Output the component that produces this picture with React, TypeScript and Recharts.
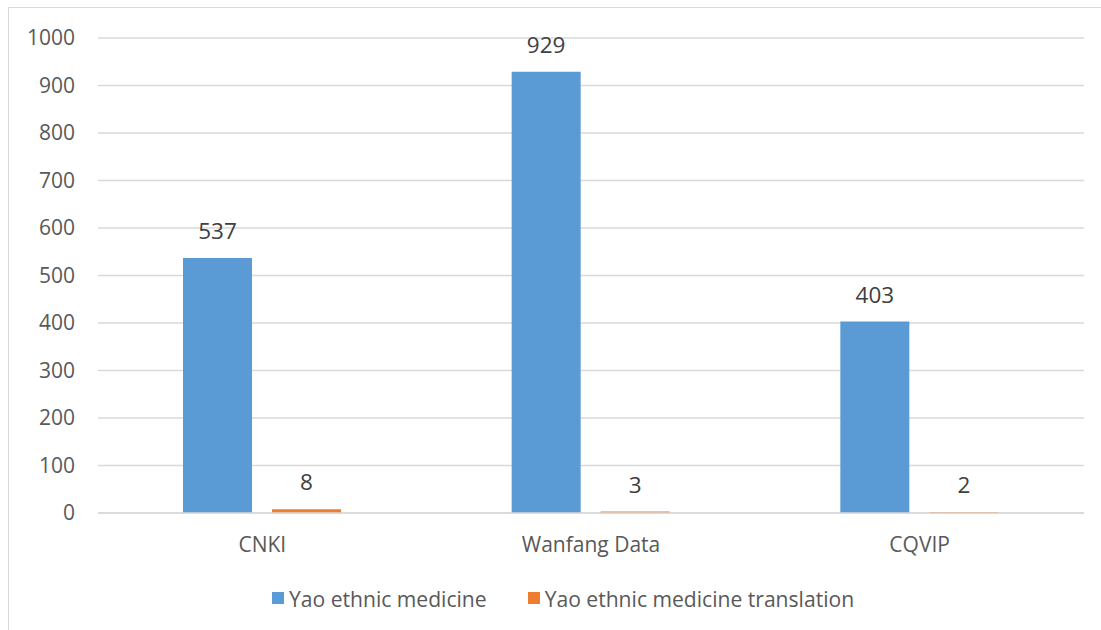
import { Bar, BarChart, CartesianGrid, LabelList, Legend, XAxis, YAxis } from "recharts";

const categories = ["CNKI", "Wanfang Data", "CQVIP"];
const medicine = [537, 929, 403];
const translation = [8, 3, 2];
const yTicks = [0, 100, 200, 300, 400, 500, 600, 700, 800, 900, 1000];

const SERIES = [
  { key: "medicine", name: "Yao ethnic medicine", color: "#5B9BD5" },
  { key: "translation", name: "Yao ethnic medicine translation", color: "#ED7D31" },
];

const FONT = "'Open Sans', Lato, sans-serif";

const rows = categories.map((c, i) => ({
  name: c,
  medicine: medicine[i],
  translation: translation[i],
}));

function LegendBox() {
  return (
    <div
      style={{
        display: "flex",
        alignItems: "center",
        height: 40,
        paddingLeft: 272,
        fontFamily: FONT,
        fontSize: 21.1,
        color: "#595959",
        whiteSpace: "nowrap",
      }}
    >
      {SERIES.map((s, i) => (
        <div
          key={s.key}
          style={{ display: "flex", alignItems: "center", marginRight: i === 0 ? 41 : 0 }}
        >
          <span
            style={{ width: 12, height: 12, background: s.color, display: "inline-block", marginRight: 5 }}
          />
          <span>{s.name}</span>
        </div>
      ))}
    </div>
  );
}

export default function App() {
  return (
    <div
      style={{
        position: "fixed",
        left: 0,
        top: 0,
        width: 1101,
        height: 630,
        overflow: "hidden",
        background: "#fff",
      }}
    >
      <div
        style={{
          position: "absolute",
          left: 8,
          top: 7,
          width: 1200,
          height: 700,
          border: "1.5px solid #D9D9D9",
        }}
      />
      <div style={{ position: "absolute", left: 0, top: 0 }}>
        <BarChart
          width={1101}
          height={630}
          data={rows}
          margin={{ top: 38, right: 17, left: 0, bottom: 12 }}
          barSize={69}
          barGap={20}
        >
          <CartesianGrid vertical={false} stroke="#D9D9D9" strokeWidth={1.3} />
          <XAxis
            dataKey="name"
            height={65}
            axisLine={{ stroke: "#D9D9D9", strokeWidth: 1.3 }}
            tickLine={false}
            tickMargin={18}
            tick={{ fontSize: 21, fill: "#595959", fontFamily: FONT }}
          />
          <YAxis
            width={98}
            domain={[0, 1000]}
            ticks={yTicks}
            interval={0}
            axisLine={false}
            tickLine={false}
            tickMargin={17}
            tick={{ fontSize: 21, fill: "#595959", fontFamily: FONT }}
          />
          <Legend verticalAlign="bottom" height={40} content={() => <LegendBox />} />
          {SERIES.map((s) => (
            <Bar key={s.key} dataKey={s.key} name={s.name} fill={s.color} isAnimationActive={false}>
              <LabelList
                dataKey={s.key}
                position="top"
                offset={19}
                style={{ fontSize: 22.5, fill: "#404040", fontFamily: FONT }}
              />
            </Bar>
          ))}
        </BarChart>
      </div>
    </div>
  );
}
